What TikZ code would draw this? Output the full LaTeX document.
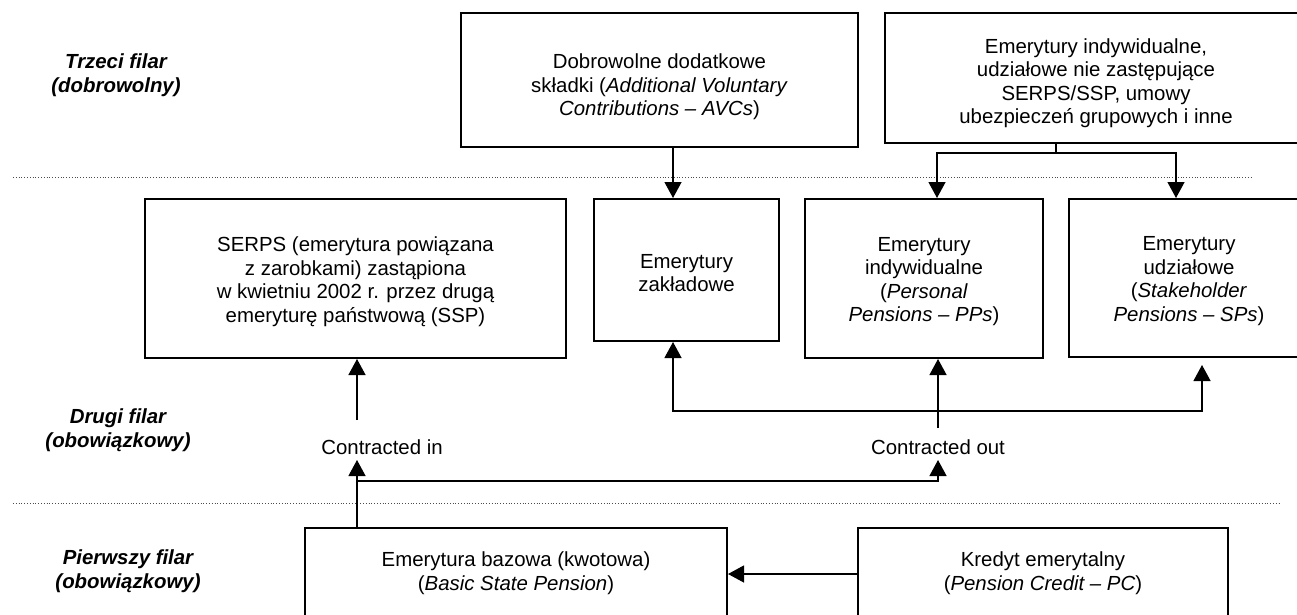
\documentclass[tikz,border=0pt]{standalone}
\usepackage{fontspec}
\setmainfont{Liberation Sans}
\usetikzlibrary{arrows.meta}
\begin{document}
\begin{tikzpicture}[x=1pt,y=-1pt,
  box/.style={draw, line width=2pt, inner sep=0pt},
  btxt/.style={align=center, inner sep=0pt, font=\fontsize{20.4}{23.5}\selectfont},
  lbl/.style={align=center, inner sep=0pt, font=\bfseries\itshape\fontsize{20.4}{23.5}\selectfont},
  txt/.style={inner sep=0pt, font=\fontsize{20.4}{23.5}\selectfont},
  conn/.style={line width=1.3pt, -{Triangle[length=16pt,width=17pt]}},
  plain/.style={line width=1.3pt},
  sep/.style={dotted, line width=0.8pt, black!70}]
\useasboundingbox (0,0) rectangle (1297,615);
\clip (0,0) rectangle (1297,615);
\fill[white] (0,0) rectangle (1297,615);

% separators
\coordinate (s1a) at (13,177); \coordinate (s1b) at (1253,177);
\coordinate (s2a) at (13,503); \coordinate (s2b) at (1280,503);
\draw[sep] (s1a) -- (s1b);
\draw[sep] (s2a) -- (s2b);

% pillar labels
\node[lbl] (p3) at (116,75) {Trzeci filar\\(dobrowolny)};
\node[lbl] (p2) at (118,430) {Drugi filar\\(obowiązkowy)};
\node[lbl] (p1) at (128,571) {Pierwszy filar\\(obowiązkowy)};

% third pillar boxes
\node[box, minimum width=397pt, minimum height=134pt] (avc) at (659.5,80) {};
\node[btxt] (avcT) at ([yshift=-7pt]avc.center)
  {Dobrowolne dodatkowe\\składki (\textit{Additional Voluntary}\\\textit{Contributions – AVCs})};
\node[box, minimum width=422pt, minimum height=130pt] (tr) at (1096,78) {};
\node[btxt] (trT) at ([yshift=-5pt]tr.center)
  {Emerytury indywidualne,\\udziałowe nie zastępujące\\SERPS/SSP, umowy\\ubezpieczeń grupowych i inne};

% second pillar boxes
\node[box, minimum width=421pt, minimum height=159pt] (serps) at (355.5,278.5) {};
\node[btxt] (serpsT) at ([yshift=-3pt]serps.center)
  {SERPS (emerytura powiązana\\z zarobkami) zastąpiona\\w kwietniu 2002 r. przez drugą\\emeryturę państwową (SSP)};
\node[box, minimum width=185pt, minimum height=142pt] (zak) at (686.5,270) {};
\node[btxt] (zakT) at ([yshift=-3pt]zak.center) {Emerytury\\zakładowe};
\node[box, minimum width=238pt, minimum height=159pt] (pp) at (924,278.5) {};
\node[btxt] (ppT) at ([yshift=-3pt]pp.center)
  {Emerytury\\indywidualne\\(\textit{Personal}\\\textit{Pensions – PPs})};
\node[box, minimum width=240pt, minimum height=158pt] (sp) at (1189,278) {};
\node[btxt] (spT) at ([yshift=-3pt]sp.center)
  {Emerytury\\udziałowe\\(\textit{Stakeholder}\\\textit{Pensions – SPs})};

% first pillar boxes
\node[box, minimum width=422pt, minimum height=88pt] (basic) at (516,572) {};
\node[btxt] (basicT) at ([yshift=-1pt]basic.center)
  {Emerytura bazowa (kwotowa)\\(\textit{Basic State Pension})};
\node[box, minimum width=370pt, minimum height=88pt] (kredyt) at (1043,572) {};
\node[btxt] (kredytT) at ([yshift=-1pt]kredyt.center)
  {Kredyt emerytalny\\(\textit{Pension Credit – PC})};

% contracted labels
\node[txt] (ci) at (382,447) {Contracted in};
\node[txt] (co) at (938,447) {Contracted out};

% helper coordinates
\coordinate (xa) at (673,0);
\coordinate (brM) at (1056,153);
\coordinate (brL) at (937,153);
\coordinate (brR) at (1176,153);
\coordinate (ciT) at (357,420);
\coordinate (ciB) at (357,460);
\coordinate (j1) at (357,481);
\coordinate (j1r) at (938,481);
\coordinate (coB) at (938,460);
\coordinate (coT) at (938,428);
\coordinate (j2) at (938,411);
\coordinate (zL) at (673,411);
\coordinate (zR) at (1202,411);
\coordinate (ky) at (0,574);

% connectors
\draw[conn] (avc.south -| xa) -- (zak.north -| xa);
\draw[plain] (tr.south -| brM) -- (brM);
\draw[conn] (brM) -- (brL) -- (pp.north -| brL);
\draw[conn] (brM) -- (brR) -- (sp.north -| brR);
\draw[conn] (ciT) -- (serps.south -| ciT);
\draw[conn] (basic.north -| ciB) -- (ciB);
\draw[conn] (j1) -- (j1r) -- (coB);
\draw[conn] (coT) -- (pp.south -| coT);
\draw[conn] (j2) -- (zL) -- (zak.south -| zL);
\draw[conn, shorten >=7pt] (j2) -- (zR) -- (sp.south -| zR);
\draw[conn] (kredyt.west |- ky) -- (basic.east |- ky);
\end{tikzpicture}
\end{document}
